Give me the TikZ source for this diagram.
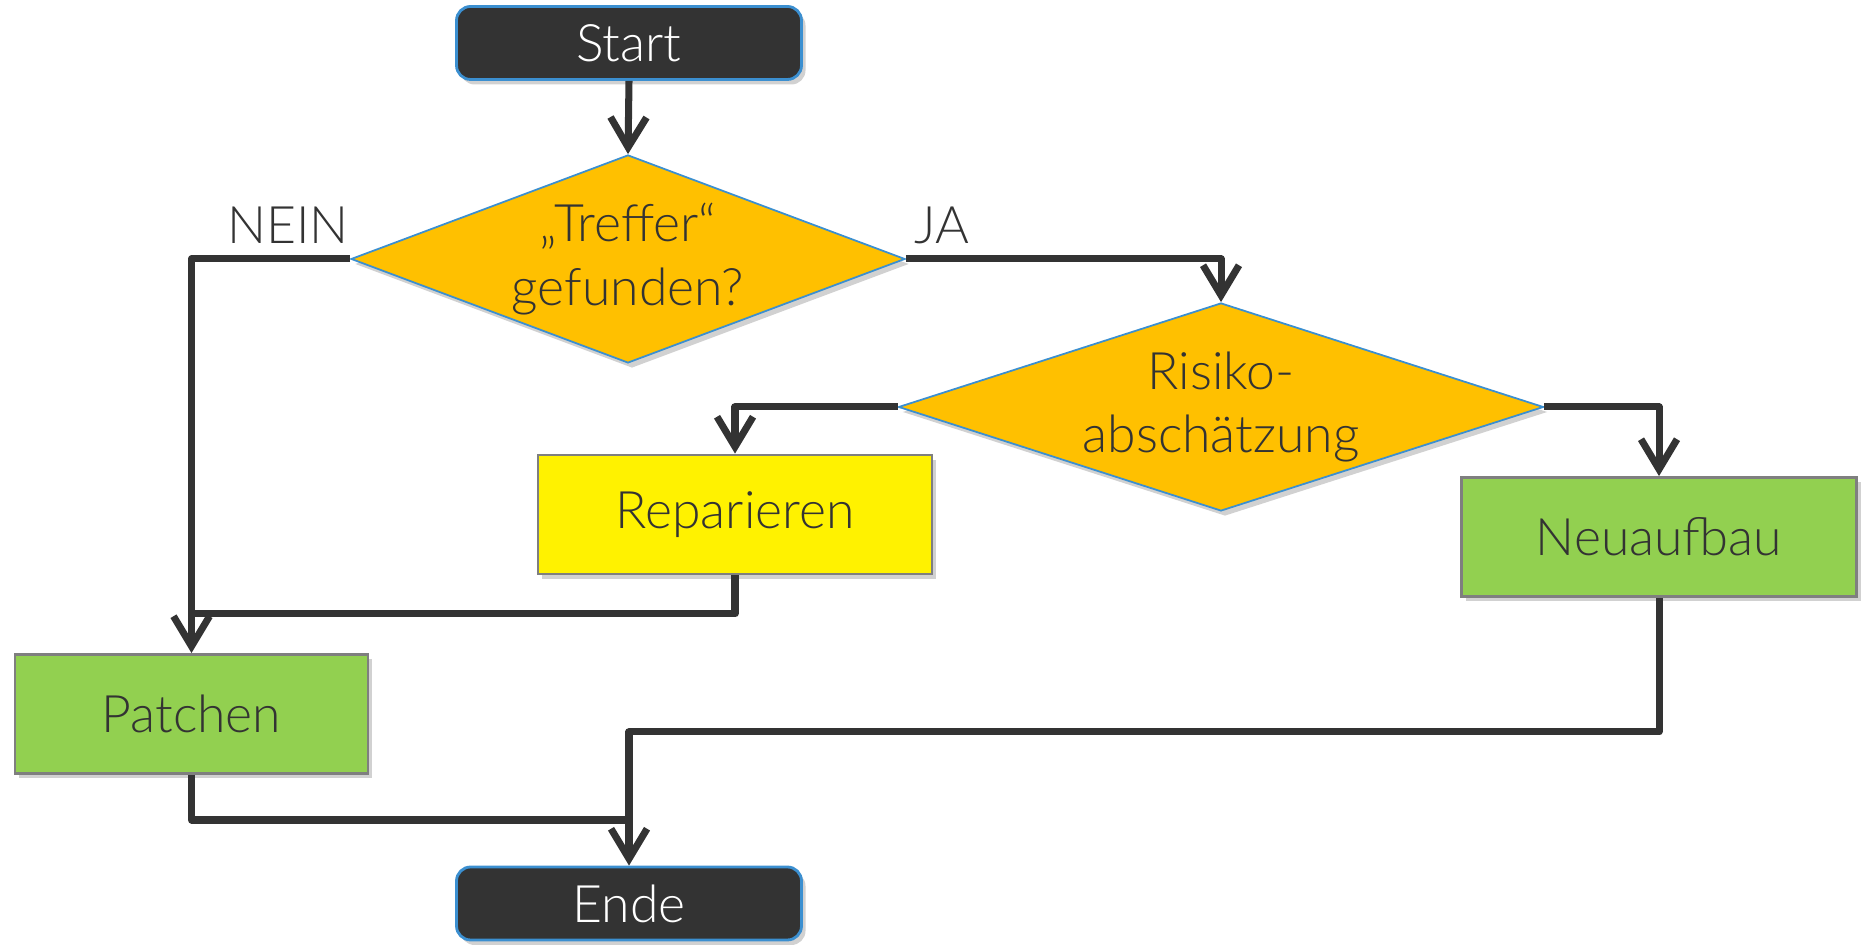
\documentclass[tikz,border=0pt]{standalone}
\usepackage{fontspec}
\setmainfont{Lato Light}
\usetikzlibrary{shapes.geometric,arrows.meta,shadows}

\definecolor{inkgray}{HTML}{333333}
\definecolor{rimblue}{HTML}{3B8FD0}
\definecolor{amber}{HTML}{FFC000}
\definecolor{leaf}{HTML}{92D050}
\definecolor{rimgray}{HTML}{7F7F7F}

\tikzset{
  boxfont/.style={font=\fontsize{14.7}{18}\selectfont},
  shade box/.style={drop shadow={shadow xshift=0.04cm, shadow yshift=-0.05cm, opacity=0.18, fill=black}},
  terminal/.style={rectangle, rounded corners=4pt, draw=rimblue, line width=0.8pt, fill=inkgray,
    text=white, boxfont, minimum width=3.45cm, minimum height=0.73cm, shade box},
  decision/.style={diamond, draw=rimblue, line width=0.5pt, fill=amber, text=inkgray,
    boxfont, align=center, inner sep=0pt, minimum height=2.08cm, shade box},
  task/.style={rectangle, draw=rimgray, line width=0.8pt, text=inkgray, boxfont,
    minimum width=3.94cm, minimum height=1.19cm, shade box},
  wire/.style={draw=inkgray, line width=2pt, line join=round},
  flow/.style={wire, -{Straight Barb[length=3mm,width=3.6mm]}},
}

\begin{document}
\begin{tikzpicture}
\useasboundingbox (0,0) rectangle (18.62,9.45);

\node[terminal] (start) at (6.29,9.02) {Start};
\node[decision, minimum width=5.54cm, aspect=2.66] (found) at (6.28,6.86) {„Treffer“\\gefunden?};
\node[decision, minimum width=6.45cm, aspect=3.1] (risk) at (12.21,5.38) {Risiko-\\abschätzung};
\node[task, fill=yellow] (repair) at (7.35,4.305) {Reparieren};
\node[task, fill=leaf, minimum width=3.95cm] (rebuild) at (16.59,4.08) {Neuaufbau};
\node[task, fill=leaf, minimum width=3.53cm] (patch) at (1.915,2.31) {Patchen};
\node[terminal] (stop) at (6.29,0.415) {Ende};

\coordinate (join1) at (1.90,3.31);
\coordinate (join2) at (6.29,1.25);
\coordinate (join3) at (6.29,2.13);

\draw[flow] (start.south) -- (found.north);
\draw[flow] (found.east) -| (risk.north)
  node[pos=0, above right, xshift=-0.07cm, boxfont, text=inkgray] (yes) {JA};
\draw[flow] (found.west) -| (patch.north)
  node[pos=0, above left, xshift=0.14cm, boxfont, text=inkgray] (no) {NEIN};
\draw[flow] (risk.west) -| (repair.north);
\draw[flow] (risk.east) -| (rebuild.north);
\draw[wire] (repair.south) |- (join1);
\draw[wire] (patch.south) |- (join2);
\draw[flow] (rebuild.south) |- (join3) -- (stop.north);
\end{tikzpicture}
\end{document}
